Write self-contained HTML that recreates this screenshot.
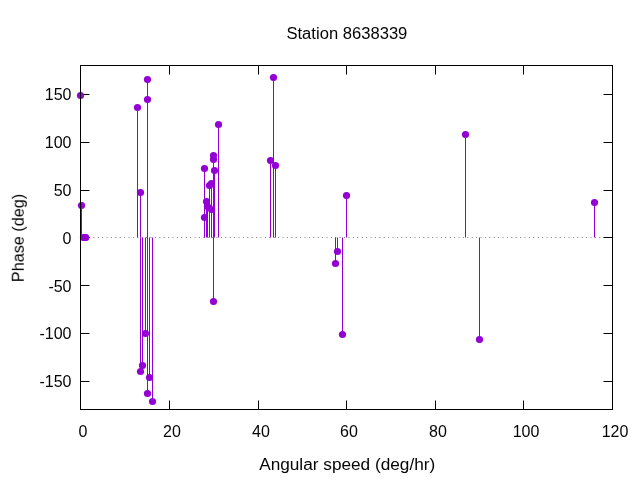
<!DOCTYPE html><html><head><meta charset="utf-8"><style>html,body{margin:0;padding:0;background:#fff;}svg{display:block;}text{font-family:"Liberation Sans",sans-serif;fill:#000;}</style></head><body>
<svg width="640" height="480" viewBox="0 0 640 480">
<rect width="640" height="480" fill="#fff"/>
<line x1="80.1" y1="237.5" x2="612.5" y2="237.5" stroke="#000" stroke-width="1" stroke-dasharray="1 3.4" stroke-opacity="0.5"/>
<path d="M80.5,94.50h9M612.5,94.50h-9M80.5,142.50h9M612.5,142.50h-9M80.5,190.50h9M612.5,190.50h-9M80.5,237.50h9M612.5,237.50h-9M80.5,285.50h9M612.5,285.50h-9M80.5,333.50h9M612.5,333.50h-9M80.5,381.50h9M612.5,381.50h-9M80.50,409.5v-9M80.50,65.5v9M169.50,409.5v-9M169.50,65.5v9M258.50,409.5v-9M258.50,65.5v9M346.50,409.5v-9M346.50,65.5v9M435.50,409.5v-9M435.50,65.5v9M523.50,409.5v-9M523.50,65.5v9M612.50,409.5v-9M612.50,65.5v9" stroke="#000" stroke-width="1" fill="none"/>
<line x1="80.50" y1="237.5" x2="80.50" y2="95.50" stroke="#9400d3" stroke-width="1.0"/>
<line x1="81.50" y1="237.5" x2="81.50" y2="205.50" stroke="#9400d3" stroke-width="1.0"/>
<line x1="83.50" y1="237.5" x2="83.50" y2="237.50" stroke="#9400d3" stroke-width="1.0"/>
<line x1="85.50" y1="237.5" x2="85.50" y2="237.50" stroke="#9400d3" stroke-width="1.0"/>
<line x1="85.50" y1="237.5" x2="85.50" y2="237.50" stroke="#9400d3" stroke-width="1.0"/>
<line x1="137.50" y1="237.5" x2="137.50" y2="107.50" stroke="#9400d3" stroke-width="1.0"/>
<line x1="140.50" y1="237.5" x2="140.50" y2="371.50" stroke="#9400d3" stroke-width="1.0"/>
<line x1="140.50" y1="237.5" x2="140.50" y2="192.50" stroke="#9400d3" stroke-width="1.0"/>
<line x1="142.50" y1="237.5" x2="142.50" y2="365.50" stroke="#9400d3" stroke-width="1.0"/>
<line x1="145.50" y1="237.5" x2="145.50" y2="333.50" stroke="#9400d3" stroke-width="1.0"/>
<line x1="147.50" y1="237.5" x2="147.50" y2="99.50" stroke="#9400d3" stroke-width="1.0"/>
<line x1="147.50" y1="237.5" x2="147.50" y2="393.50" stroke="#9400d3" stroke-width="1.0"/>
<line x1="147.50" y1="237.5" x2="147.50" y2="79.50" stroke="#9400d3" stroke-width="1.0"/>
<line x1="149.50" y1="237.5" x2="149.50" y2="377.50" stroke="#9400d3" stroke-width="1.0"/>
<line x1="152.50" y1="237.5" x2="152.50" y2="401.50" stroke="#9400d3" stroke-width="1.0"/>
<line x1="204.50" y1="237.5" x2="204.50" y2="217.50" stroke="#9400d3" stroke-width="1.0"/>
<line x1="204.50" y1="237.5" x2="204.50" y2="168.50" stroke="#9400d3" stroke-width="1.0"/>
<line x1="206.50" y1="237.5" x2="206.50" y2="201.50" stroke="#9400d3" stroke-width="1.0"/>
<line x1="207.50" y1="237.5" x2="207.50" y2="206.50" stroke="#9400d3" stroke-width="1.0"/>
<line x1="209.50" y1="237.5" x2="209.50" y2="185.50" stroke="#9400d3" stroke-width="1.0"/>
<line x1="211.50" y1="237.5" x2="211.50" y2="209.50" stroke="#9400d3" stroke-width="1.0"/>
<line x1="211.50" y1="237.5" x2="211.50" y2="183.50" stroke="#9400d3" stroke-width="1.0"/>
<line x1="213.50" y1="237.5" x2="213.50" y2="155.50" stroke="#9400d3" stroke-width="1.0"/>
<line x1="213.50" y1="237.5" x2="213.50" y2="301.50" stroke="#9400d3" stroke-width="1.0"/>
<line x1="213.50" y1="237.5" x2="213.50" y2="159.50" stroke="#9400d3" stroke-width="1.0"/>
<line x1="214.50" y1="237.5" x2="214.50" y2="170.50" stroke="#9400d3" stroke-width="1.0"/>
<line x1="218.50" y1="237.5" x2="218.50" y2="124.50" stroke="#9400d3" stroke-width="1.0"/>
<line x1="270.50" y1="237.5" x2="270.50" y2="160.50" stroke="#9400d3" stroke-width="1.0"/>
<line x1="273.50" y1="237.5" x2="273.50" y2="77.50" stroke="#9400d3" stroke-width="1.0"/>
<line x1="275.50" y1="237.5" x2="275.50" y2="165.50" stroke="#9400d3" stroke-width="1.0"/>
<line x1="335.50" y1="237.5" x2="335.50" y2="263.50" stroke="#9400d3" stroke-width="1.0"/>
<line x1="337.50" y1="237.5" x2="337.50" y2="251.50" stroke="#9400d3" stroke-width="1.0"/>
<line x1="342.50" y1="237.5" x2="342.50" y2="334.50" stroke="#9400d3" stroke-width="1.0"/>
<line x1="346.50" y1="237.5" x2="346.50" y2="195.50" stroke="#9400d3" stroke-width="1.0"/>
<line x1="465.50" y1="237.5" x2="465.50" y2="134.50" stroke="#9400d3" stroke-width="1.0"/>
<line x1="479.50" y1="237.5" x2="479.50" y2="339.50" stroke="#9400d3" stroke-width="1.0"/>
<line x1="594.50" y1="237.5" x2="594.50" y2="202.50" stroke="#9400d3" stroke-width="1.0"/>
<circle cx="80.50" cy="95.50" r="3.6" fill="#9400d3"/>
<circle cx="81.50" cy="205.50" r="3.6" fill="#9400d3"/>
<circle cx="83.50" cy="237.50" r="3.6" fill="#9400d3"/>
<circle cx="85.50" cy="237.50" r="3.6" fill="#9400d3"/>
<circle cx="85.50" cy="237.50" r="3.6" fill="#9400d3"/>
<circle cx="137.50" cy="107.50" r="3.6" fill="#9400d3"/>
<circle cx="140.50" cy="371.50" r="3.6" fill="#9400d3"/>
<circle cx="140.50" cy="192.50" r="3.6" fill="#9400d3"/>
<circle cx="142.50" cy="365.50" r="3.6" fill="#9400d3"/>
<circle cx="145.50" cy="333.50" r="3.6" fill="#9400d3"/>
<circle cx="147.50" cy="99.50" r="3.6" fill="#9400d3"/>
<circle cx="147.50" cy="393.50" r="3.6" fill="#9400d3"/>
<circle cx="147.50" cy="79.50" r="3.6" fill="#9400d3"/>
<circle cx="149.50" cy="377.50" r="3.6" fill="#9400d3"/>
<circle cx="152.50" cy="401.50" r="3.6" fill="#9400d3"/>
<circle cx="204.50" cy="217.50" r="3.6" fill="#9400d3"/>
<circle cx="204.50" cy="168.50" r="3.6" fill="#9400d3"/>
<circle cx="206.50" cy="201.50" r="3.6" fill="#9400d3"/>
<circle cx="207.50" cy="206.50" r="3.6" fill="#9400d3"/>
<circle cx="209.50" cy="185.50" r="3.6" fill="#9400d3"/>
<circle cx="211.50" cy="209.50" r="3.6" fill="#9400d3"/>
<circle cx="211.50" cy="183.50" r="3.6" fill="#9400d3"/>
<circle cx="213.50" cy="155.50" r="3.6" fill="#9400d3"/>
<circle cx="213.50" cy="301.50" r="3.6" fill="#9400d3"/>
<circle cx="213.50" cy="159.50" r="3.6" fill="#9400d3"/>
<circle cx="214.50" cy="170.50" r="3.6" fill="#9400d3"/>
<circle cx="218.50" cy="124.50" r="3.6" fill="#9400d3"/>
<circle cx="270.50" cy="160.50" r="3.6" fill="#9400d3"/>
<circle cx="273.50" cy="77.50" r="3.6" fill="#9400d3"/>
<circle cx="275.50" cy="165.50" r="3.6" fill="#9400d3"/>
<circle cx="335.50" cy="263.50" r="3.6" fill="#9400d3"/>
<circle cx="337.50" cy="251.50" r="3.6" fill="#9400d3"/>
<circle cx="342.50" cy="334.50" r="3.6" fill="#9400d3"/>
<circle cx="346.50" cy="195.50" r="3.6" fill="#9400d3"/>
<circle cx="465.50" cy="134.50" r="3.6" fill="#9400d3"/>
<circle cx="479.50" cy="339.50" r="3.6" fill="#9400d3"/>
<circle cx="594.50" cy="202.50" r="3.6" fill="#9400d3"/>
<rect x="80.5" y="65.5" width="532.0" height="344.0" stroke="#000" stroke-width="1" fill="none"/>
<g opacity="0.99">
<text x="71.5" y="100" font-size="16" text-anchor="end">150</text>
<text x="71.5" y="148" font-size="16" text-anchor="end">100</text>
<text x="71.5" y="196" font-size="16" text-anchor="end">50</text>
<text x="71.5" y="244" font-size="16" text-anchor="end">0</text>
<text x="71.5" y="292" font-size="16" text-anchor="end">-50</text>
<text x="71.5" y="339" font-size="16" text-anchor="end">-100</text>
<text x="71.5" y="387" font-size="16" text-anchor="end">-150</text>
<text x="83.00" y="437.3" font-size="16" text-anchor="middle">0</text>
<text x="172.00" y="437.3" font-size="16" text-anchor="middle">20</text>
<text x="261.00" y="437.3" font-size="16" text-anchor="middle">40</text>
<text x="349.00" y="437.3" font-size="16" text-anchor="middle">60</text>
<text x="438.00" y="437.3" font-size="16" text-anchor="middle">80</text>
<text x="526.00" y="437.3" font-size="16" text-anchor="middle">100</text>
<text x="615.00" y="437.3" font-size="16" text-anchor="middle">120</text>
<text x="346.9" y="39" font-size="16" text-anchor="middle" textLength="120.9" lengthAdjust="spacingAndGlyphs">Station 8638339</text>
<text x="347.2" y="470" font-size="16" text-anchor="middle" textLength="176.0" lengthAdjust="spacingAndGlyphs">Angular speed (deg/hr)</text>
<text transform="translate(23.75,237.95) rotate(-90)" x="0" y="0" font-size="16" text-anchor="middle" textLength="88.4" lengthAdjust="spacingAndGlyphs">Phase (deg)</text>
</g>
</svg></body></html>
